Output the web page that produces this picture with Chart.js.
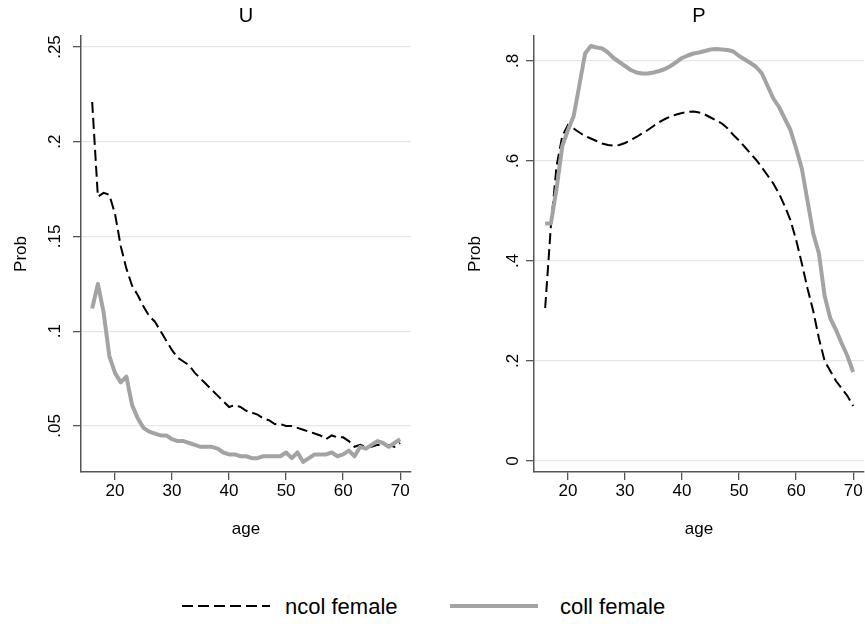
<!DOCTYPE html>
<html><head><meta charset="utf-8">
<script src="https://cdn.jsdelivr.net/npm/chart.js@4/dist/chart.umd.min.js"></script>
<style>
html,body{margin:0;padding:0;background:#fff;}
body{width:865px;height:624px;position:relative;overflow:hidden;font-family:"Liberation Sans",Arial,sans-serif;}
canvas{position:absolute;top:0;}
#cu{left:0;}
#cp{left:432px;}
#legend{position:absolute;left:0;top:590px;width:865px;height:34px;}
#legend .txt{position:absolute;top:2px;font-size:22px;line-height:30px;color:#000;white-space:nowrap;}
#legend svg{position:absolute;top:12px;}
</style></head><body>
<canvas id="cu" width="432" height="560"></canvas>
<canvas id="cp" width="433" height="560"></canvas>
<div id="legend"></div>
<script>
// ---- data ----
const ages = [16,17,18,19,20,21,22,23,24,25,26,27,28,29,30,31,32,33,34,35,36,37,38,39,40,41,42,43,44,45,46,47,48,49,50,51,52,53,54,55,56,57,58,59,60,61,62,63,64,65,66,67,68,69,70];
const seriesNames = ['ncol female', 'coll female'];
const panelTitles = ['U', 'P'];

const uNcol = [0.221,0.171,0.173,0.172,0.162,0.145,0.133,0.124,0.119,0.113,0.108,0.105,0.100,0.095,0.090,0.086,0.084,0.082,0.078,0.075,0.072,0.069,0.066,0.063,0.060,0.061,0.060,0.058,0.057,0.056,0.054,0.053,0.051,0.051,0.050,0.050,0.049,0.048,0.047,0.046,0.045,0.043,0.045,0.044,0.044,0.042,0.039,0.040,0.039,0.039,0.040,0.040,0.040,0.039,0.041];
const uColl = [0.112,0.125,0.110,0.087,0.078,0.073,0.076,0.061,0.054,0.049,0.047,0.046,0.045,0.045,0.043,0.042,0.042,0.041,0.040,0.039,0.039,0.039,0.038,0.036,0.035,0.035,0.034,0.034,0.033,0.033,0.034,0.034,0.034,0.034,0.036,0.033,0.036,0.031,0.033,0.035,0.035,0.035,0.036,0.034,0.035,0.037,0.034,0.039,0.038,0.040,0.042,0.041,0.039,0.041,0.043];
const pNcol = [0.306,0.470,0.590,0.650,0.672,0.665,0.657,0.650,0.645,0.640,0.635,0.632,0.631,0.632,0.636,0.642,0.648,0.655,0.662,0.670,0.678,0.684,0.689,0.693,0.696,0.698,0.699,0.697,0.693,0.687,0.681,0.675,0.665,0.652,0.641,0.628,0.615,0.602,0.587,0.571,0.555,0.535,0.510,0.482,0.442,0.395,0.345,0.300,0.245,0.200,0.180,0.160,0.145,0.130,0.110];
const pColl = [0.475,0.475,0.545,0.630,0.662,0.690,0.752,0.815,0.830,0.827,0.825,0.817,0.806,0.798,0.790,0.782,0.777,0.775,0.775,0.777,0.780,0.784,0.790,0.798,0.806,0.811,0.815,0.817,0.820,0.823,0.824,0.823,0.822,0.819,0.810,0.803,0.796,0.788,0.775,0.750,0.725,0.708,0.685,0.662,0.625,0.585,0.520,0.455,0.415,0.330,0.285,0.262,0.235,0.210,0.178];

const xTicks = [20,30,40,50,60,70];
const uYTicks = [0.05,0.10,0.15,0.20,0.25];
const uYLabels = ['.05','.1','.15','.2','.25'];
const pYTicks = [0,0.2,0.4,0.6,0.8];
const pYLabels = ['0','.2','.4','.6','.8'];
const xRange = [14.04, 71.9];
const uYRange = [0.0257, 0.2558];
const pYRange = [-0.022, 0.85];

// ---- styles ----
const FONT = '"Liberation Sans", Arial, sans-serif';
const GRAY = '#a3a3a3';
const AXIS = '#555555';
const DASH = [11, 5];

const panelText = {
  id: 'panelText',
  afterDraw(chart, args, o) {
    const {ctx, chartArea, scales} = chart;
    ctx.save();
    ctx.fillStyle = '#000';
    ctx.font = '20px ' + FONT;
    ctx.textAlign = 'center';
    ctx.textBaseline = 'middle';
    ctx.fillText(o.title, (chartArea.left + chartArea.right) / 2, 16);
    ctx.font = '17px ' + FONT;
    o.ticks.forEach((v, i) => {
      const py = scales.y.getPixelForValue(v);
      ctx.save();
      ctx.translate(chartArea.left - o.labelGap, py);
      ctx.rotate(-Math.PI / 2);
      ctx.textAlign = 'center';
      ctx.textBaseline = 'alphabetic';
      ctx.fillText(o.labels[i], 0, 0);
      ctx.restore();
    });
    ctx.restore();
  }
};

function makePanel(id, title, ncol, coll, yRange, yTicks, yLabels, yWidth, padRight, yTitlePad, labelGap) {
  const toPts = arr => ages.map((a, i) => ({x: a, y: arr[i]}));
  return new Chart(document.getElementById(id), {
    type: 'line',
    data: {
      datasets: [
        {label: seriesNames[0], data: toPts(ncol), borderColor: '#000', borderWidth: 2, borderDash: DASH,
         pointRadius: 0, tension: 0, fill: false, order: 1},
        {label: seriesNames[1], data: toPts(coll), borderColor: GRAY, borderWidth: 4,
         pointRadius: 0, tension: 0, fill: false, order: 0, borderJoinStyle: 'round'}
      ]
    },
    options: {
      responsive: false,
      animation: false,
      events: [],
      layout: {padding: {left: 0, top: 36, right: padRight, bottom: 0}},
      plugins: {
        legend: {display: false},
        tooltip: {enabled: false},
        title: {display: false},
        panelText: {title: title, ticks: yTicks, labels: yLabels, labelGap: labelGap}
      },
      scales: {
        x: {
          type: 'linear', min: xRange[0], max: xRange[1],
          afterBuildTicks: s => { s.ticks = xTicks.map(v => ({value: v})); },
          afterFit: s => { s.height = 88; },
          grid: {drawOnChartArea: false, drawTicks: true, tickLength: 8, color: AXIS, tickColor: AXIS, lineWidth: 1.3},
          border: {display: true, color: AXIS, width: 1.5},
          ticks: {autoSkip: false, maxRotation: 0, minRotation: 0, padding: 1, color: '#000',
                  font: {family: FONT, size: 17}, callback: v => String(v)},
          title: {display: true, text: 'age', color: '#000', font: {family: FONT, size: 17},
                  padding: {top: 0, bottom: 20}}
        },
        y: {
          type: 'linear', min: yRange[0], max: yRange[1],
          afterBuildTicks: s => { s.ticks = yTicks.map(v => ({value: v})); },
          afterFit: s => { s.width = yWidth; },
          grid: {drawOnChartArea: true, drawTicks: true, tickLength: 8, color: '#e6e6e6', tickColor: AXIS, lineWidth: 1.3},
          border: {display: true, color: AXIS, width: 1.5},
          ticks: {display: false},
          title: {display: true, text: 'Prob', color: '#000', font: {family: FONT, size: 17},
                  padding: {top: yTitlePad, bottom: 0}}
        }
      }
    },
    plugins: [panelText]
  });
}

makePanel('cu', panelTitles[0], uNcol, uColl, uYRange, uYTicks, uYLabels, 81, 21, 11, 21);
makePanel('cp', panelTitles[1], pNcol, pColl, pYRange, pYTicks, pYLabels, 102, 1, 33, 16);

// ---- legend ----
const leg = document.getElementById('legend');
const keys = [
  {x: 182, tx: 285, dash: DASH.join(' '), color: '#000', w: 2},
  {x: 450, tx: 560, dash: '', color: GRAY, w: 4}
];
keys.forEach((k, i) => {
  const ns = 'http://www.w3.org/2000/svg';
  const svg = document.createElementNS(ns, 'svg');
  svg.setAttribute('width', '88'); svg.setAttribute('height', '8');
  svg.style.left = k.x + 'px';
  const ln = document.createElementNS(ns, 'line');
  ln.setAttribute('x1', '0'); ln.setAttribute('x2', '88');
  ln.setAttribute('y1', '4'); ln.setAttribute('y2', '4');
  ln.setAttribute('stroke', k.color); ln.setAttribute('stroke-width', k.w);
  if (k.dash) ln.setAttribute('stroke-dasharray', k.dash);
  svg.appendChild(ln);
  leg.appendChild(svg);
  const t = document.createElement('span');
  t.className = 'txt';
  t.style.left = k.tx + 'px';
  t.textContent = seriesNames[i];
  leg.appendChild(t);
});
</script>
</body></html>
